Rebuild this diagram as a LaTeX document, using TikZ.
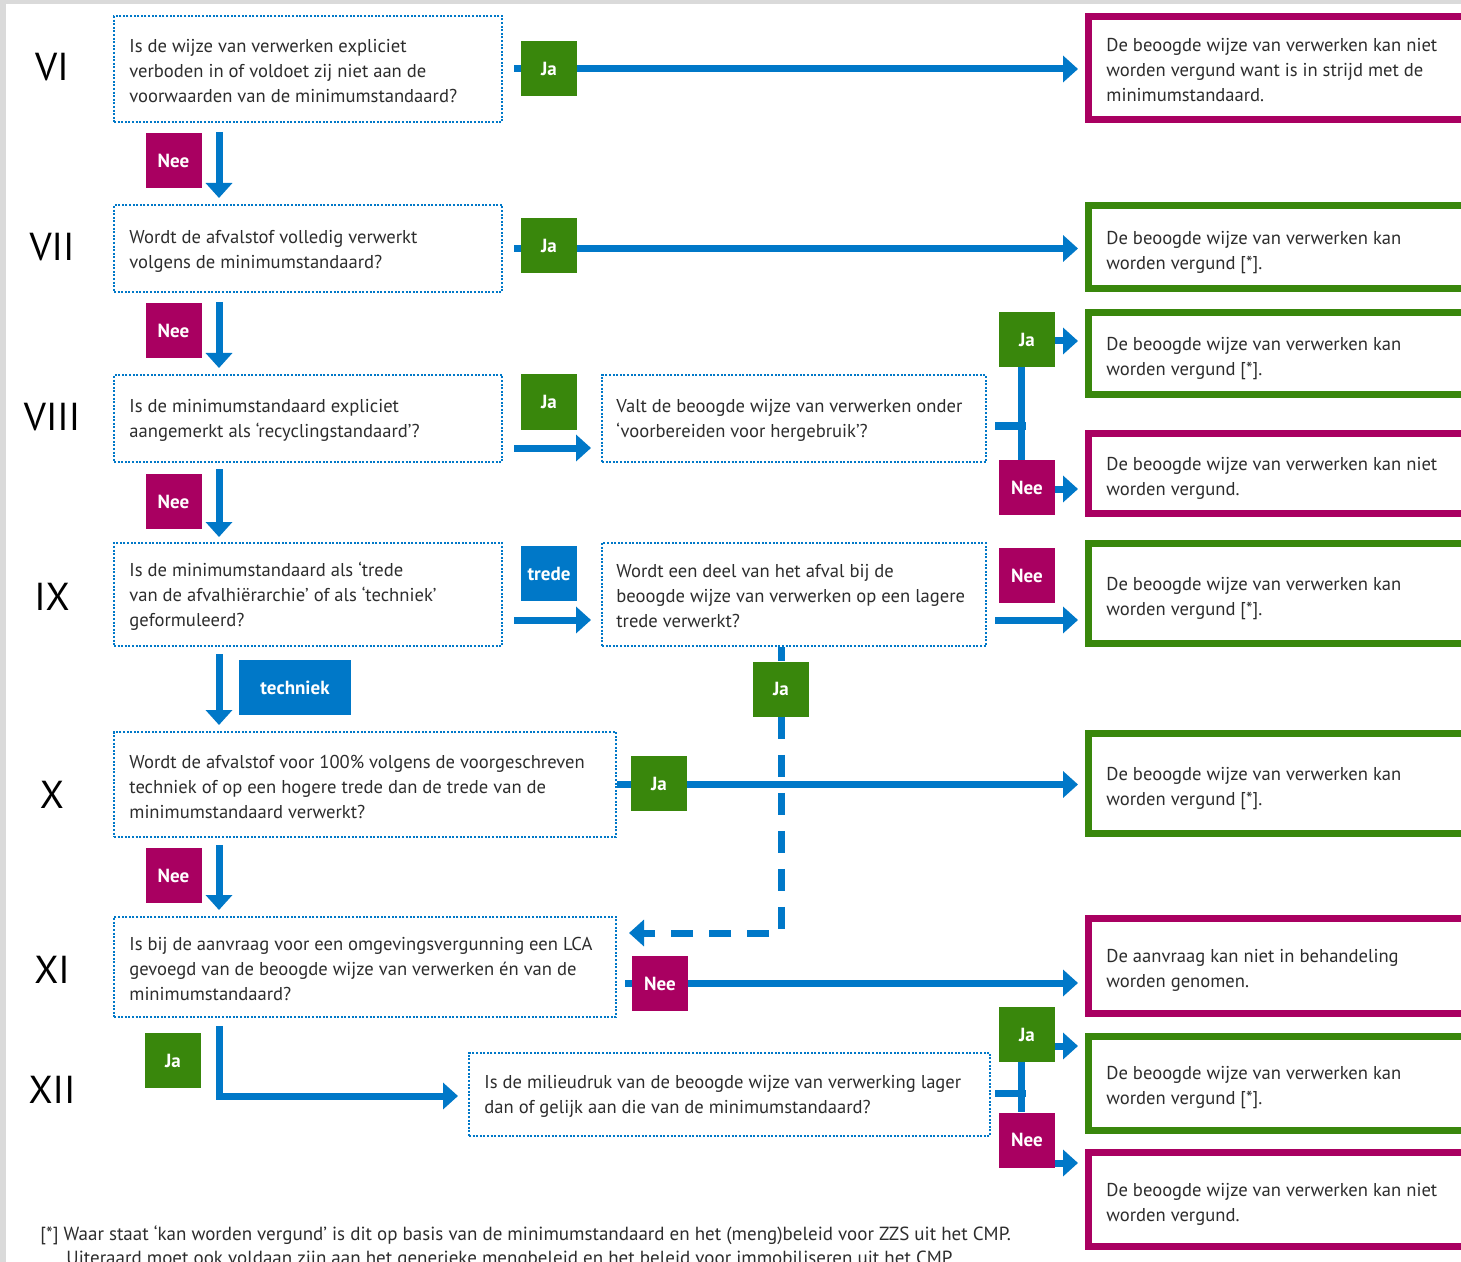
\documentclass[tikz,border=0pt]{standalone}
\usepackage{fontspec}
\setmainfont{PT Sans}
\usetikzlibrary{arrows.meta,calc}
\pgfdeclarelayer{bgl}
\pgfdeclarelayer{lines}
\pgfsetlayers{bgl,lines,main}
\definecolor{rblue}{RGB}{0,120,200}
\definecolor{rgreen}{RGB}{57,135,12}
\definecolor{rmag}{RGB}{169,0,97}
\definecolor{rtext}{RGB}{45,45,45}
\definecolor{rgray}{RGB}{218,218,218}
\tikzset{
  qbox/.style={draw=rblue, line width=1pt, dash pattern=on 1pt off 0.8pt, anchor=north west, inner sep=0pt},
  rbox/.style={draw=#1, line width=3.5pt, anchor=north west, inner sep=0pt, minimum width=200pt},
  txt/.style={anchor=west, align=left, inner sep=0pt, text=rtext, font=\fontsize{9.3}{12.5}\selectfont},
  lbl/.style={fill=#1, text=white, minimum width=28pt, minimum height=27.5pt, inner sep=0pt, font=\bfseries\fontsize{9.5}{11}\selectfont},
  roman/.style={text=black, inner sep=0pt, font=\fontsize{19.5}{22}\selectfont},
  foot/.style={anchor=base west, inner sep=0pt, text=rtext, font=\fontsize{9.5}{11}\selectfont},
  conn/.style={draw=rblue, line width=3.5pt, line join=miter},
  arr/.style={conn, -{Triangle[width=13pt,length=7.5pt]}},
  darr/.style={arr, dash pattern=on 11pt off 8pt},
}
\begin{document}
\begin{tikzpicture}[x=0.5pt,y=-0.5pt]
\useasboundingbox (0,0) rectangle (1461,1262);
\begin{pgfonlayer}{bgl}
\fill[rgray] (0,0) rectangle (1461,1262);
\fill[white] (6,4) rectangle (1461,1262);
\end{pgfonlayer}
\clip (0,0) rectangle (1461,1262);

% roman numerals
\node[roman] (n6) at (52,67) {VI};
\node[roman] (n7) at (52,247) {VII};
\node[roman] (n8) at (52,417) {VIII};
\node[roman] (n9) at (52,597) {IX};
\node[roman] (n10) at (52,795) {X};
\node[roman] (n11) at (52,970) {XI};
\node[roman] (n12) at (52,1090) {XII};

% question boxes
\node[qbox, minimum width=194pt, minimum height=53pt] (q6) at (113,15) {};
\node[txt] (t6) at ($(q6.west)+(16,2)$) {Is de wijze van verwerken expliciet\\verboden in of voldoet zij niet aan de\\voorwaarden van de minimumstandaard?};
\node[qbox, minimum width=194pt, minimum height=43.5pt] (q7) at (113,204) {};
\node[txt] (t7) at ($(q7.west)+(16,3)$) {Wordt de afvalstof volledig verwerkt\\volgens de minimumstandaard?};
\node[qbox, minimum width=194pt, minimum height=43.5pt] (q8) at (113,374) {};
\node[txt] (t8) at ($(q8.west)+(16,2)$) {Is de minimumstandaard expliciet\\aangemerkt als ‘recyclingstandaard’?};
\node[qbox, minimum width=194pt, minimum height=51.5pt] (q9) at (113,542) {};
\node[txt] (t9) at ($(q9.west)+(16,2)$) {Is de minimumstandaard als ‘trede\\van de afvalhiërarchie’ of als ‘techniek’\\geformuleerd?};
\node[qbox, minimum width=251pt, minimum height=52.5pt] (q10) at (113,731) {};
\node[txt] (t10) at ($(q10.west)+(16,2)$) {Wordt de afvalstof voor 100\% volgens de voorgeschreven\\techniek of op een hogere trede dan de trede van de\\minimumstandaard verwerkt?};
\node[qbox, minimum width=251pt, minimum height=50pt] (q11) at (113,916) {};
\node[txt] (t11) at ($(q11.west)+(16,2)$) {Is bij de aanvraag voor een omgevingsvergunning een LCA\\gevoegd van de beoogde wijze van verwerken én van de\\minimumstandaard?};
\node[qbox, minimum width=260.5pt, minimum height=41.5pt] (q12) at (468,1052) {};
\node[txt] (t12) at ($(q12.west)+(16,2)$) {Is de milieudruk van de beoogde wijze van verwerking lager\\dan of gelijk aan die van de minimumstandaard?};
\node[qbox, minimum width=192pt, minimum height=43.5pt] (q8b) at (601,374) {};
\node[txt] (t8b) at ($(q8b.west)+(15,2)$) {Valt de beoogde wijze van verwerken onder\\‘voorbereiden voor hergebruik’?};
\node[qbox, minimum width=192pt, minimum height=51.5pt] (q9b) at (601,542) {};
\node[txt] (t9b) at ($(q9b.west)+(15,2)$) {Wordt een deel van het afval bij de\\beoogde wijze van verwerken op een lagere\\trede verwerkt?};

% result boxes
\node[rbox=rmag, minimum height=51.5pt] (r6) at (1085,13) {};
\node[txt] (s6) at ($(r6.west)+(21,2)$) {De beoogde wijze van verwerken kan niet\\worden vergund want is in strijd met de\\minimumstandaard.};
\node[rbox=rgreen, minimum height=41.5pt] (r7) at (1085,202) {};
\node[txt] (s7) at ($(r7.west)+(21,6)$) {De beoogde wijze van verwerken kan\\worden vergund [*].};
\node[rbox=rgreen, minimum height=41pt] (r8a) at (1085,309) {};
\node[txt] (s8a) at ($(r8a.west)+(21,5)$) {De beoogde wijze van verwerken kan\\worden vergund [*].};
\node[rbox=rmag, minimum height=40pt] (r8b) at (1085,430) {};
\node[txt] (s8b) at ($(r8b.west)+(21,5)$) {De beoogde wijze van verwerken kan niet\\worden vergund.};
\node[rbox=rgreen, minimum height=50pt] (r9) at (1085,540) {};
\node[txt] (s9) at ($(r9.west)+(21,5)$) {De beoogde wijze van verwerken kan\\worden vergund [*].};
\node[rbox=rgreen, minimum height=50pt] (r10) at (1085,730) {};
\node[txt] (s10) at ($(r10.west)+(21,5)$) {De beoogde wijze van verwerken kan\\worden vergund [*].};
\node[rbox=rmag, minimum height=47.5pt] (r11) at (1085,915) {};
\node[txt] (s11) at ($(r11.west)+(21,4)$) {De aanvraag kan niet in behandeling\\worden genomen.};
\node[rbox=rgreen, minimum height=47pt] (r12a) at (1085,1033) {};
\node[txt] (s12a) at ($(r12a.west)+(21,4)$) {De beoogde wijze van verwerken kan\\worden vergund [*].};
\node[rbox=rmag, minimum height=47pt] (r12b) at (1085,1149) {};
\node[txt] (s12b) at ($(r12b.west)+(21,5)$) {De beoogde wijze van verwerken kan niet\\worden vergund.};

% labels
\node[lbl=rgreen] (ja6) at (549,68.5) {Ja};
\node[lbl=rmag] (nee6) at (173.5,160.5) {Nee};
\node[lbl=rgreen] (ja7) at (549,245.5) {Ja};
\node[lbl=rmag] (nee7) at (173.5,330.5) {Nee};
\node[lbl=rgreen] (ja8) at (549,402) {Ja};
\node[lbl=rmag] (nee8) at (173.5,501.5) {Nee};
\node[lbl=rgreen] (ja8b) at (1027,339.5) {Ja};
\node[lbl=rmag] (nee8b) at (1027,487.5) {Nee};
\node[lbl=rblue] (trede9) at (549,573.5) {trede};
\node[lbl=rblue, minimum width=56pt] (tech9) at (295,687.5) {techniek};
\node[lbl=rmag] (nee9b) at (1027,575.5) {Nee};
\node[lbl=rgreen] (ja9b) at (781,689) {Ja};
\node[lbl=rgreen] (ja10) at (659,783.5) {Ja};
\node[lbl=rmag] (nee10) at (173.5,875.5) {Nee};
\node[lbl=rmag] (nee11) at (660,983.5) {Nee};
\node[lbl=rgreen] (ja11) at (173,1060.5) {Ja};
\node[lbl=rgreen] (ja12) at (1027,1034.5) {Ja};
\node[lbl=rmag] (nee12) at (1027,1140) {Nee};

% footnote
\node[foot] (fn1) at (40,1240) {[*] Waar staat ‘kan worden vergund’ is dit op basis van de minimumstandaard en het (meng)beleid voor ZZS uit het CMP.};
\node[foot] (fn2) at (66,1264) {Uiteraard moet ook voldaan zijn aan het generieke mengbeleid en het beleid voor immobiliseren uit het CMP.};

% connectors
\begin{pgfonlayer}{lines}
\draw[arr] ($(q6.east)+(11,0)$) -- ($(q6.east -| r6.west)+(-7,0)$);
\draw[arr] ($(q6.south west)+(106,9)$) -- ($(q7.north west)+(106,-6)$);
\draw[arr] ($(q7.east)+(11,0)$) -- ($(q7.east -| r7.west)+(-7,0)$);
\draw[arr] ($(q7.south west)+(106,9)$) -- ($(q8.north west)+(106,-6)$);
\draw[arr] ($(q8.east)+(11,29.5)$) -- ($(q8b.west)+(-10,29.5)$);
\draw[arr] ($(q8.south west)+(106,6)$) -- ($(q9.north west)+(106,-5)$);
\draw[conn] ($(q8b.east)+(8,7.5)$) -- ++(31,0);
\draw[conn] ($(ja8b.south)+(-5.5,0)$) -- ($(nee8b.north)+(-5.5,0)$);
\draw[arr] ($(ja8b.east)+(0,1.5)$) -- ($(ja8b.east -| r8a.west)+(-7,1.5)$);
\draw[arr] ($(nee8b.east)+(0,1.5)$) -- ($(nee8b.east -| r8b.west)+(-7,1.5)$);
\draw[arr] ($(q9.east)+(11,25.5)$) -- ($(q9b.west)+(-10,25.5)$);
\draw[arr] ($(q9.south west)+(106,7)$) -- ($(q10.north west)+(106,-6)$);
\draw[arr] ($(q9b.east)+(8,25.5)$) -- ($(q9b.east -| r9.west)+(-7,25.5)$);
\draw[conn] ($(q9b.south west)+(180,0)$) -- (ja9b.north);
\draw[darr] (ja9b.south) |- ($(q11.east)+(12,-34)$);
\draw[arr] (q10.east) -- ($(q10.east -| r10.west)+(-7,0)$);
\draw[arr] ($(q10.south west)+(106,7)$) -- ($(q11.north west)+(106,-6)$);
\draw[arr] ($(q11.east)+(8,16)$) -- ($(q11.east -| r11.west)+(-7,16)$);
\draw[arr] ($(q11.south west)+(106,8)$) |- ($(q12.west)+(-10,1.5)$);
\draw[conn] ($(q12.east)+(4,-1.5)$) -- ++(31,0);
\draw[conn] ($(ja12.south)+(-5.5,0)$) -- ($(nee12.north)+(-5.5,0)$);
\draw[arr] ($(ja12.east)+(0,11.5)$) -- ($(ja12.east -| r12a.west)+(-7,11.5)$);
\draw[arr] ($(nee12.east)+(0,23)$) -- ($(nee12.east -| r12b.west)+(-7,23)$);
\end{pgfonlayer}
\end{tikzpicture}
\end{document}
